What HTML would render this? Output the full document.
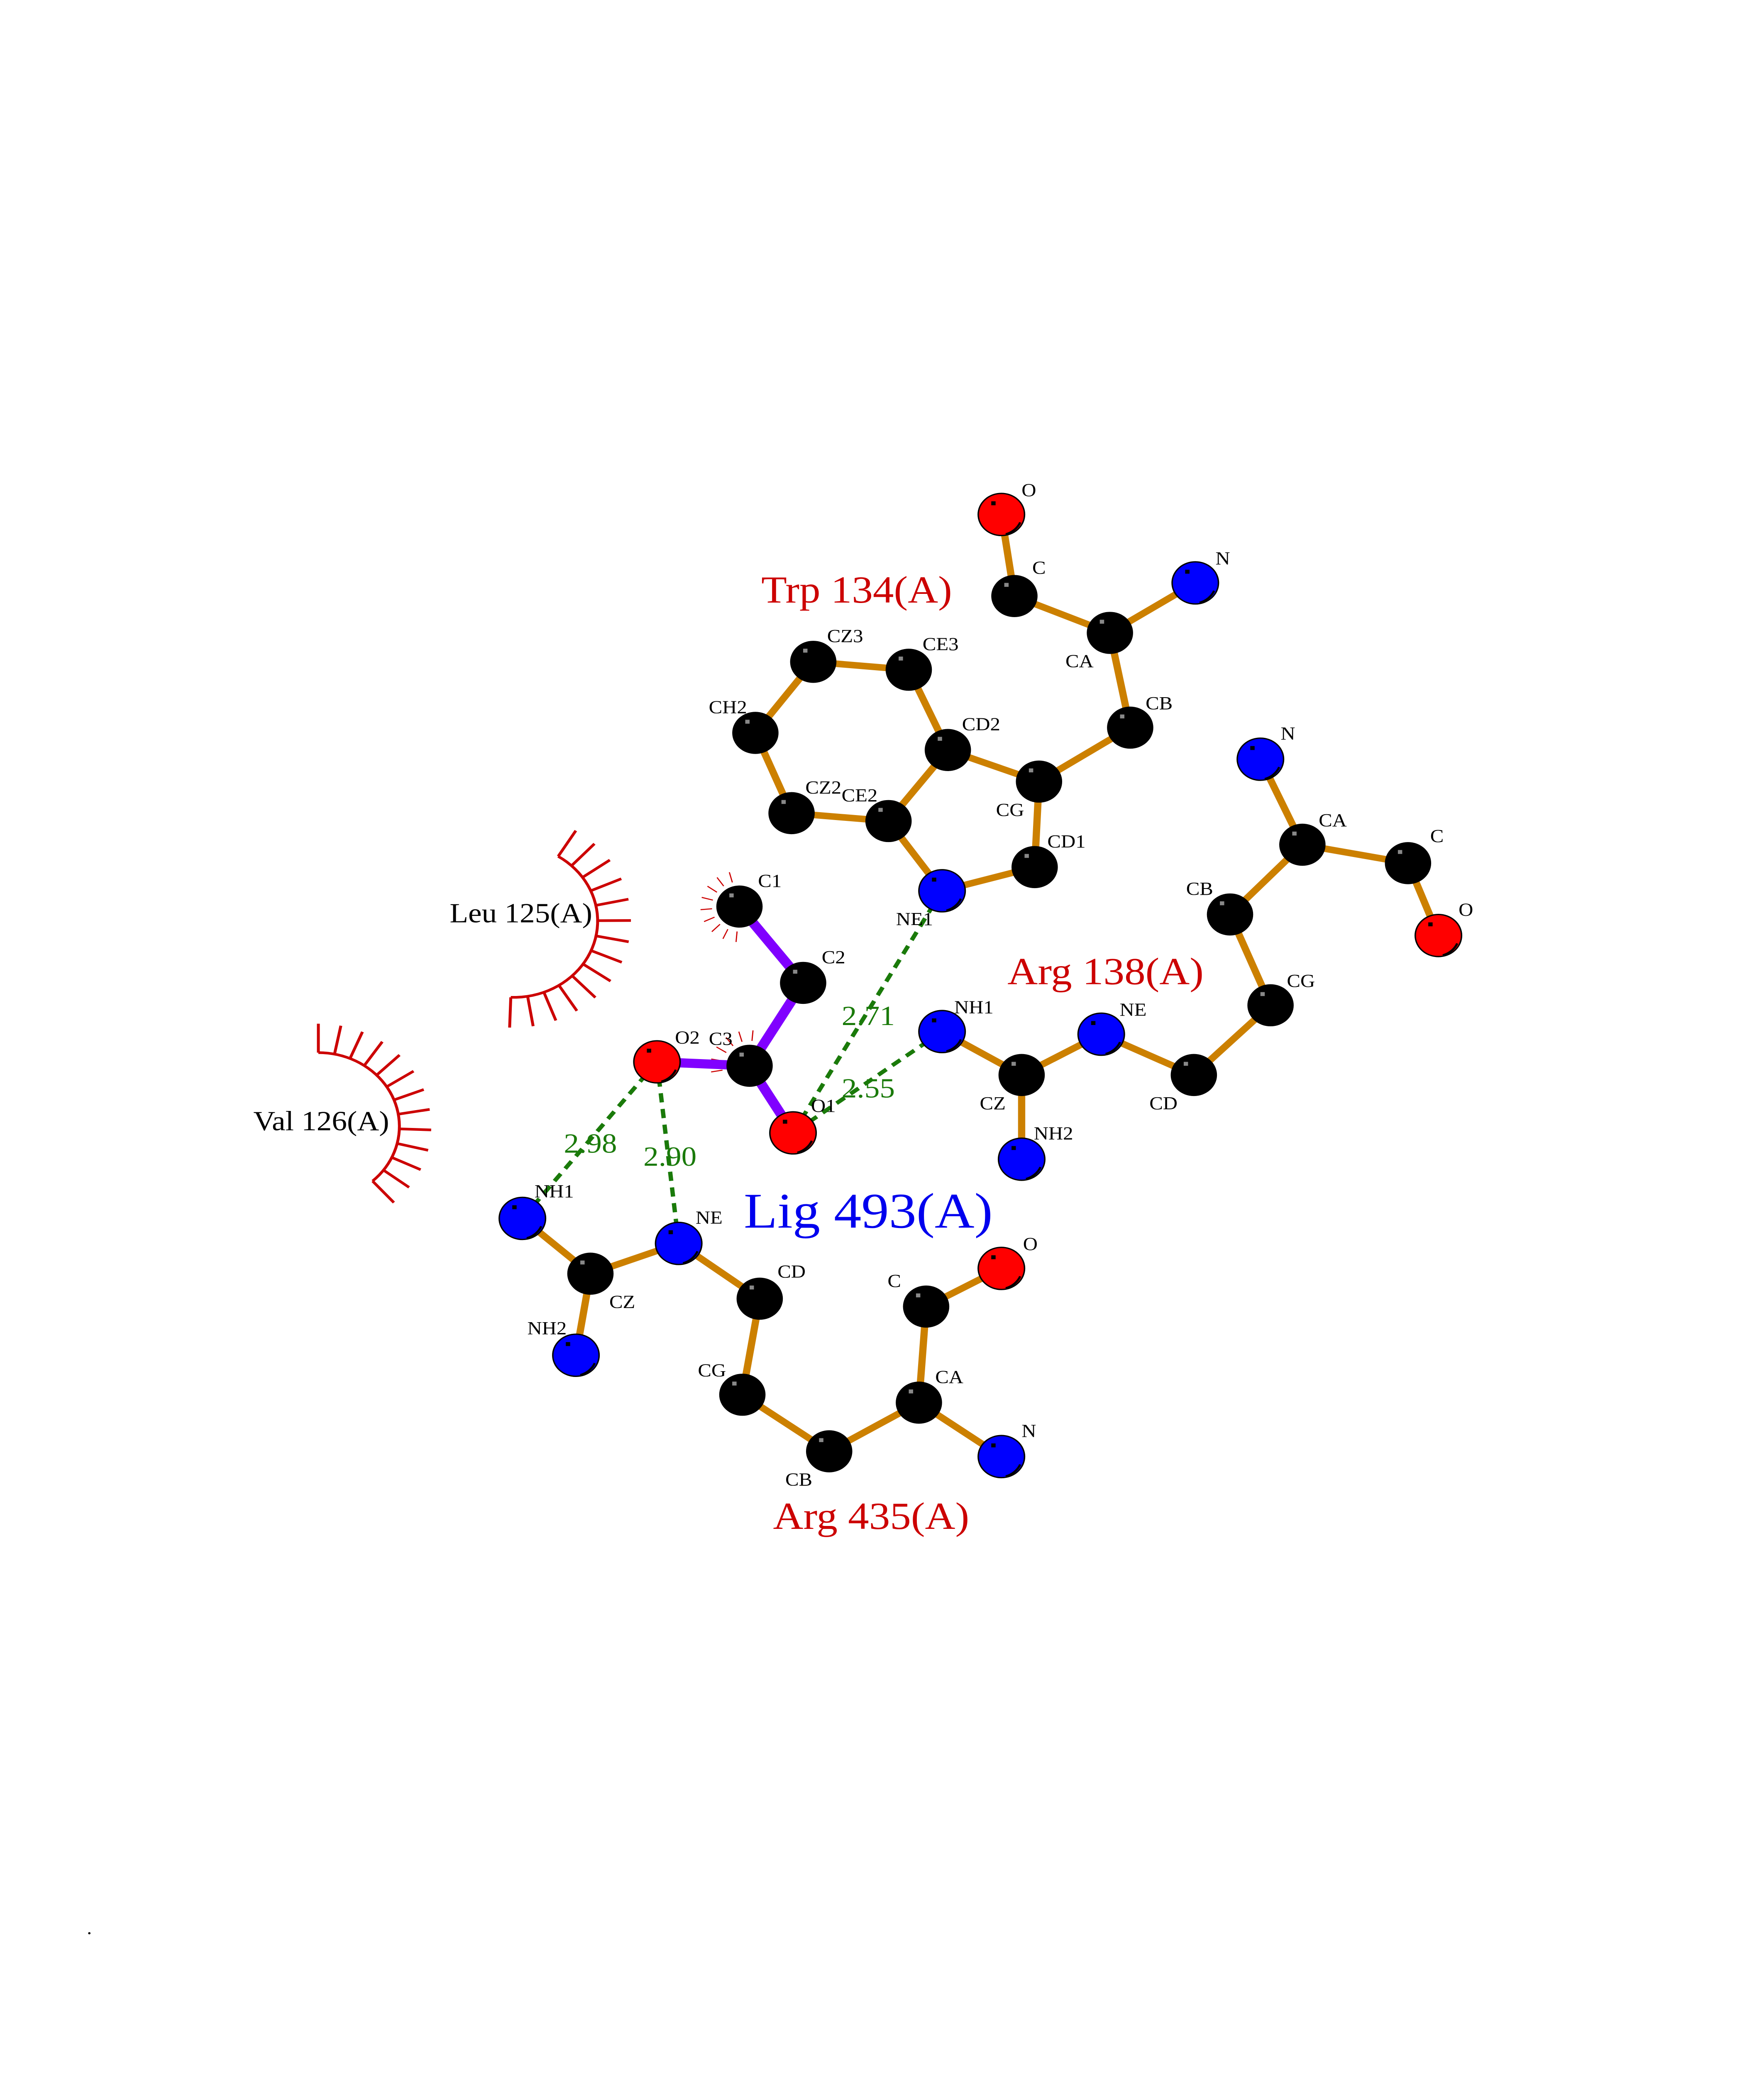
<!DOCTYPE html>
<html><head><meta charset="utf-8"><style>html,body{margin:0;padding:0;background:#fff;width:100%;height:100%;overflow:hidden}svg{display:block;position:fixed;left:0;top:0;width:100vw;height:100vh}</style></head>
<body>
<svg id="s" xmlns="http://www.w3.org/2000/svg" viewBox="0 0 1219 1577" preserveAspectRatio="none" font-family="Liberation Serif, serif">
<rect width="1219" height="1577" fill="#fff"/>
<g id="hyd" stroke="#cc0000" fill="none"></g>
<g id="bonds" stroke-linecap="butt"></g>
<g id="hb" stroke="#1a7a0a" stroke-width="3" stroke-dasharray="7,5" fill="none"></g>
<g id="atoms"></g>
<g font-size="14" fill="#000" text-anchor="middle">
<text x="711" y="377">O</text><text x="718" y="436">C</text><text x="746" y="507">CA</text><text x="845" y="429">N</text>
<text x="801" y="539">CB</text><text x="698" y="620">CG</text><text x="678" y="555">CD2</text><text x="650" y="494">CE3</text>
<text x="584" y="488">CZ3</text><text x="503" y="542">CH2</text><text x="569" y="603">CZ2</text><text x="594" y="609">CE2</text>
<text x="632" y="703">NE1</text><text x="737" y="644">CD1</text>
<text x="890" y="562">N</text><text x="921" y="628">CA</text><text x="993" y="640">C</text><text x="1013" y="696">O</text>
<text x="829" y="680">CB</text><text x="899" y="750">CG</text><text x="804" y="843">CD</text><text x="783" y="772">NE</text>
<text x="686" y="843">CZ</text><text x="673" y="770">NH1</text><text x="728" y="866">NH2</text>
<text x="532" y="674">C1</text><text x="576" y="732">C2</text><text x="498" y="794">C3</text><text x="475" y="793">O2</text><text x="569" y="845">O1</text>
<text x="383" y="910">NH1</text><text x="430" y="994">CZ</text><text x="378" y="1014">NH2</text><text x="490" y="930">NE</text>
<text x="547" y="971">CD</text><text x="492" y="1046">CG</text><text x="552" y="1129">CB</text><text x="656" y="1051">CA</text>
<text x="618" y="978">C</text><text x="712" y="950">O</text><text x="711" y="1092">N</text>
</g>
<g font-size="21" fill="#1a7a0a" text-anchor="middle">
<text x="600" y="779">2.71</text><text x="600" y="834">2.55</text><text x="408" y="876">2.98</text><text x="463" y="886">2.90</text>
</g>
<g font-size="29" text-anchor="middle" fill="#cc0000">
<text x="592" y="458">Trp 134(A)</text><text x="764" y="748">Arg 138(A)</text><text x="602" y="1162">Arg 435(A)</text>
</g>
<g font-size="21" text-anchor="middle" fill="#000">
<text x="360" y="701">Leu 125(A)</text><text x="222" y="859">Val 126(A)</text>
</g>
<text x="600" y="933" font-size="38" text-anchor="middle" fill="#0000ee">Lig 493(A)</text>
<text x="60" y="1470" font-size="14" fill="#000">.</text>
</svg>
<script>
var NS="http://www.w3.org/2000/svg";
function el(p,t,a){var e=document.createElementNS(NS,t);for(var k in a)e.setAttribute(k,a[k]);document.getElementById(p).appendChild(e);return e;}
var o=4;
var A={
tO:[688,387,'r'],tC:[697,449,'k'],tCA:[763,477,'k'],tN:[822,439,'b'],tCB:[777,549,'k'],tCG:[714,590,'k'],tCD2:[651,566,'k'],tCE3:[624,505,'k'],tCZ3:[558,499,'k'],tCH2:[518,553,'k'],tCZ2:[543,614,'k'],tCE2:[610,620,'k'],tNE1:[647,673,'b'],tCD1:[711,655,'k'],
aN:[867,573,'b'],aCA:[896,638,'k'],aC:[969,652,'k'],aO:[990,707,'r'],aCB:[846,691,'k'],aCG:[874,760,'k'],aCD:[821,813,'k'],aNE:[757,782,'b'],aCZ:[702,813,'k'],aNH1:[647,780,'b'],aNH2:[702,877,'b'],
lC1:[507,685,'k'],lC2:[551,743,'k'],lC3:[514,806,'k'],lO2:[450,803,'r'],lO1:[544,857,'r'],
bNH1:[357,922,'b'],bCZ:[404,964,'k'],bNH2:[394,1026,'b'],bNE:[465,941,'b'],bCD:[521,983,'k'],bCG:[509,1056,'k'],bCB:[569,1099,'k'],bCA:[631,1062,'k'],bC:[636,989,'k'],bO:[688,960,'r'],bN:[688,1103,'b']};
for(var k in A){A[k][0]+=o;A[k][1]+=o;}
var B=[['tO','tC'],['tC','tCA'],['tCA','tN'],['tCA','tCB'],['tCB','tCG'],['tCG','tCD2'],['tCG','tCD1'],['tCD1','tNE1'],['tNE1','tCE2'],['tCE2','tCD2'],['tCD2','tCE3'],['tCE3','tCZ3'],['tCZ3','tCH2'],['tCH2','tCZ2'],['tCZ2','tCE2'],
['aN','aCA'],['aCA','aC'],['aC','aO'],['aCA','aCB'],['aCB','aCG'],['aCG','aCD'],['aCD','aNE'],['aNE','aCZ'],['aCZ','aNH1'],['aCZ','aNH2'],
['bNH1','bCZ'],['bCZ','bNH2'],['bCZ','bNE'],['bNE','bCD'],['bCD','bCG'],['bCG','bCB'],['bCB','bCA'],['bCA','bC'],['bC','bO'],['bCA','bN']];
B.forEach(function(b){var p=A[b[0]],q=A[b[1]];el('bonds','line',{x1:p[0],y1:p[1],x2:q[0],y2:q[1],stroke:'#cc8000','stroke-width':5});});
[['lC1','lC2'],['lC2','lC3'],['lC3','lO2'],['lC3','lO1']].forEach(function(b){var p=A[b[0]],q=A[b[1]];el('bonds','line',{x1:p[0],y1:p[1],x2:q[0],y2:q[1],stroke:'#8000ff','stroke-width':7});});
[['tNE1','lO1'],['aNH1','lO1'],['lO2','bNH1'],['lO2','bNE']].forEach(function(b){var p=A[b[0]],q=A[b[1]];el('hb','line',{x1:p[0],y1:p[1],x2:q[0],y2:q[1]});});
var C={k:'#000',r:'#ff0000',b:'#0000ff'};
for(var k in A){var a=A[k];el('atoms','circle',{cx:a[0],cy:a[1],r:16,fill:C[a[2]],stroke:'#000','stroke-width':a[2]=='k'?0:1});
 if(a[2]!='k')el('atoms','path',{d:'M'+(a[0]+13)+' '+(a[1]+6)+' A16 16 0 0 1 '+(a[0]+3)+' '+(a[1]+15),stroke:'#000','stroke-width':1.5,fill:'none'});
 el('atoms','rect',{x:a[0]-7,y:a[1]-10,width:3,height:3,fill:a[2]=='k'?'#888':'#000'});}
function arc(cx,cy,r,a0,a1,n,len,sw){var d='';for(var i=0;i<=40;i++){var t=(a0+(a1-a0)*i/40)*Math.PI/180;d+=(i?'L':'M')+(cx+r*Math.cos(t))+' '+(cy+r*Math.sin(t));}
 el('hyd','path',{d:d,'stroke-width':sw});
 for(var i=0;i<n;i++){var t=(a0+(a1-a0)*i/(n-1))*Math.PI/180;el('hyd','line',{x1:cx+r*Math.cos(t),y1:cy+r*Math.sin(t),x2:cx+(r+len)*Math.cos(t),y2:cy+(r+len)*Math.sin(t),'stroke-width':sw});}}
arc(355,700,58,-58,92,14,23,2);
arc(220,856,56,-90,48,13,22,2);
function spokes(cx,cy,a0,a1,n){for(var i=0;i<n;i++){var t=(a0+(a1-a0)*i/(n-1))*Math.PI/180;el('hyd','line',{x1:cx+19*Math.cos(t),y1:cy+19*Math.sin(t),x2:cx+27*Math.cos(t),y2:cy+27*Math.sin(t),'stroke-width':0.8});}}
spokes(A.lC1[0],A.lC1[1],95,255,9);
spokes(A.lC3[0],A.lC3[1],170,275,6);
</script>
</body></html>
